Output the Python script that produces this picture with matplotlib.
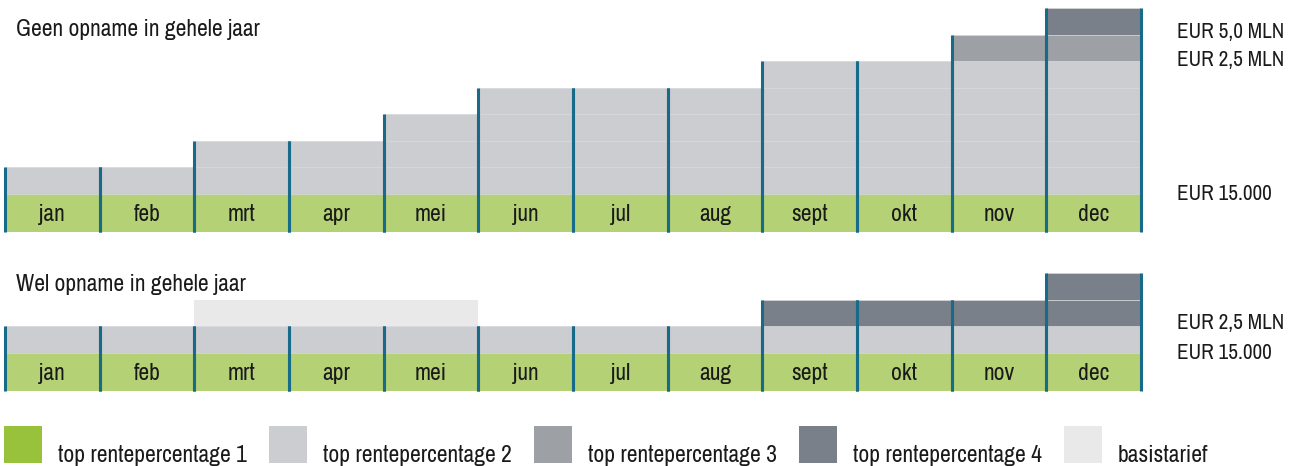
import matplotlib
matplotlib.use('Agg')
import matplotlib.pyplot as plt
from matplotlib.patches import Rectangle
from matplotlib import font_manager
from matplotlib.textpath import TextPath
from matplotlib.font_manager import FontProperties

# data: tiers per month, in "block" units (green band = base tier)
months = ['jan', 'feb', 'mrt', 'apr', 'mei', 'jun', 'jul', 'aug', 'sept', 'okt', 'nov', 'dec']

geen_tier1 = [1.45, 1.45, 1.45, 1.45, 1.45, 1.45, 1.45, 1.45, 1.45, 1.45, 1.45, 1.45]
geen_tier2 = [1, 1, 2, 2, 3, 4, 4, 4, 5, 5, 5, 5]
geen_tier3 = [0, 0, 0, 0, 0, 0, 0, 0, 0, 0, 1, 1]
geen_tier4 = [0, 0, 0, 0, 0, 0, 0, 0, 0, 0, 0, 1]

wel_tier1 = [1.45, 1.45, 1.45, 1.45, 1.45, 1.45, 1.45, 1.45, 1.45, 1.45, 1.45, 1.45]
wel_tier2 = [1, 1, 1, 1, 1, 1, 1, 1, 1, 1, 1, 1]
wel_basis = [0, 0, 1, 1, 1, 0, 0, 0, 0, 0, 0, 0]
wel_tier4 = [0, 0, 0, 0, 0, 0, 0, 0, 1, 1, 1, 2]

titles = ['Geen opname in gehele jaar', 'Wel opname in gehele jaar']
geen_labels = ['EUR 5,0 MLN', 'EUR 2,5 MLN', 'EUR 15.000']
wel_labels = ['EUR 2,5 MLN', 'EUR 15.000']

legend_labels = ['top rentepercentage 1', 'top rentepercentage 2', 'top rentepercentage 3',
                 'top rentepercentage 4', 'basistarief']

# colours
c_green = '#b5d175'
c_green_legend = '#98c23b'
c_tier2 = '#cbcdd1'
c_tier3 = '#9da1a5'
c_tier4 = '#7a8089'
c_basis = '#e9e9e9'
c_div = '#186a89'
c_edge = '#d6d8db'
c_text = '#1a1a1a'
legend_colors = [c_green_legend, c_tier2, c_tier3, c_tier4, c_basis]


def pick_font():
    # prefer a narrow / condensed face, the reference uses a condensed grotesk
    names = sorted({f.name for f in font_manager.fontManager.ttflist})
    for key in ['Narrow', 'Condensed', 'Cond']:
        for n in names:
            if key in n and 'Mono' not in n and 'Serif' not in n:
                return n, 'normal'
    for f in font_manager.fontManager.ttflist:
        if f.stretch in ('condensed', 'semi-condensed', 'extra-condensed') and 'Mono' not in f.name:
            return f.name, f.stretch
    for n in ['Roboto', 'Inter', 'Lato', 'Open Sans', 'Noto Sans']:
        if n in names:
            return n, 'normal'
    return 'DejaVu Sans', 'normal'


FONT, STRETCH = pick_font()
WEIGHT = 'light'
plt.rcParams['font.family'] = [FONT, 'DejaVu Sans']
plt.rcParams['font.stretch'] = STRETCH
plt.rcParams['font.weight'] = WEIGHT


def fit_size(text, target_px, hi=17.0):
    fp = FontProperties(family=[FONT, 'DejaVu Sans'], stretch=STRETCH, weight=WEIGHT, size=10)
    w = TextPath((0, 0), text, prop=fp).get_extents().width * 100 / 72
    return min(hi, 10 * target_px / w)


FS_TITLE = fit_size(titles[0], 243)
FS_LEG = fit_size(legend_labels[0], 189)
FS_EUR = fit_size(geen_labels[0], 104)
FS_MONTH = fit_size('sept', 38)

W, H = 1293, 466
UNIT = 26.5  # px per block
X0, X1 = 5, 1141

fig = plt.figure(figsize=(W / 100, H / 100), dpi=100)


def make_ax(top_px, bottom_px):
    ax = fig.add_axes([X0 / W, (H - bottom_px) / H, (X1 - X0) / W, (bottom_px - top_px) / H])
    ax.set_xlim(0, 12)
    ax.set_ylim(0, (bottom_px - top_px) / UNIT)
    ax.axis('off')
    return ax


def stack_blocks(ax, values, bottoms, color):
    # one unit block at a time so the faint block edges show
    n = int(max(values))
    for k in range(n):
        xs = [i + 0.5 for i, v in enumerate(values) if v > k]
        bs = [bottoms[i] + k for i, v in enumerate(values) if v > k]
        ax.bar(xs, [1] * len(xs), width=1.0, bottom=bs, color=color,
               edgecolor=c_edge, linewidth=0.5)


def draw_dividers(ax, heights):
    for i, h in enumerate(heights):
        ax.vlines([i, i + 1], 0, h, color=c_div, linewidth=2.2, clip_on=False, zorder=5)


def month_labels(ax, base):
    for i, m in enumerate(months):
        ax.text(i + 0.5, base[i] / 2, m, ha='center', va='center_baseline',
                fontsize=FS_MONTH, color=c_text)


def right_labels(ax, labels, ys):
    x = (1177 - X0) / ((X1 - X0) / 12)
    for txt, y in zip(labels, ys):
        ax.text(x, y, txt, ha='left', va='center_baseline', fontsize=FS_EUR,
                color=c_text, clip_on=False)


# top chart
ax1 = make_ax(0, 232)
ax1.bar([i + 0.5 for i in range(12)], geen_tier1, width=1.0, color=c_green, linewidth=0)
b2 = list(geen_tier1)
stack_blocks(ax1, geen_tier2, b2, c_tier2)
b3 = [b2[i] + geen_tier2[i] for i in range(12)]
stack_blocks(ax1, geen_tier3, b3, c_tier3)
b4 = [b3[i] + geen_tier3[i] for i in range(12)]
stack_blocks(ax1, geen_tier4, b4, c_tier4)
top1 = [b4[i] + geen_tier4[i] for i in range(12)]
draw_dividers(ax1, top1)
month_labels(ax1, geen_tier1)
right_labels(ax1, geen_labels, [7.62, 6.57, 1.51])
ax1.text(0.12, 7.7, titles[0], ha='left', va='center_baseline', fontsize=FS_TITLE, color=c_text)

# bottom chart
ax2 = make_ax(250, 391)
ax2.bar([i + 0.5 for i in range(12)], wel_tier1, width=1.0, color=c_green, linewidth=0)
b2 = list(wel_tier1)
stack_blocks(ax2, wel_tier2, b2, c_tier2)
b3 = [b2[i] + wel_tier2[i] for i in range(12)]
ax2.bar([i + 0.5 for i in range(12)], wel_basis, width=1.0, bottom=b3, color=c_basis, linewidth=0)
stack_blocks(ax2, wel_tier4, b3, c_tier4)
top2 = [b3[i] + wel_tier4[i] for i in range(12)]
draw_dividers(ax2, top2)
month_labels(ax2, wel_tier1)
right_labels(ax2, wel_labels, [2.64, 1.51])
ax2.text(0.12, 4.08, titles[1], ha='left', va='center_baseline', fontsize=FS_TITLE, color=c_text)

# legend, drawn by hand so the text sits on the square's baseline
lax = fig.add_axes([0, 0, 1, 1 - 400 / H])
lax.set_xlim(0, W)
lax.set_ylim(H, 400)
lax.axis('off')
for i, (lab, col) in enumerate(zip(legend_labels, legend_colors)):
    x = 4 + i * 265
    lax.add_patch(Rectangle((x, 426), 38, 37, color=col, linewidth=0))
    lax.text(x + 54, 462, lab, ha='left', va='baseline', fontsize=FS_LEG, color=c_text)

fig.savefig('out.png', dpi=100)
